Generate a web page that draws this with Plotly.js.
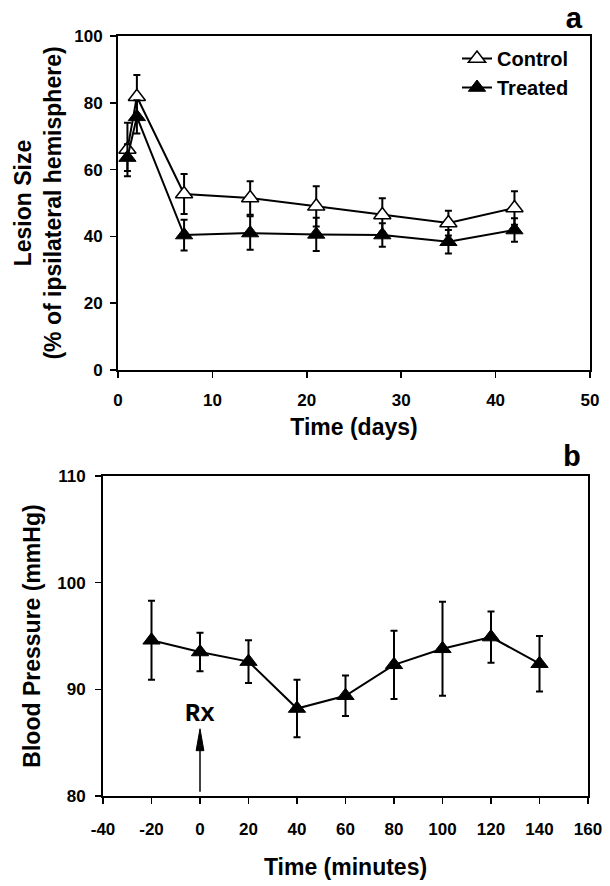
<!DOCTYPE html>
<html>
<head>
<meta charset="utf-8">
<script src="https://cdn.plot.ly/plotly-3.0.1.min.js"></script>
<style>html,body{margin:0;padding:0;background:#fff;}#chart{width:610px;height:886px;}</style>
</head>
<body>
<div id="chart"></div>
<script>
// ---- Panel a: lesion size ----
const days = [1, 2, 7, 14, 21, 28, 35, 42];
const controlLesion = [66, 81.8, 52.7, 51.5, 49, 46.4, 44, 48.5];
const controlErr = [8, 6.5, 6, 5, 6, 5, 3.7, 5];
const treatedLesion = [63.6, 75.8, 40.4, 41, 40.6, 40.4, 38.4, 41.9];
const treatedErr = [4, 5, 4.6, 5, 5, 3.5, 3.5, 3.5];
const seriesNames = ['Control', 'Treated'];
const xTicksA = [0, 10, 20, 30, 40, 50];
const yTicksA = [0, 20, 40, 60, 80, 100];

// ---- Panel b: blood pressure ----
const minutes = [-20, 0, 20, 40, 60, 80, 100, 120, 140];
const bloodPressure = [94.6, 93.5, 92.6, 88.2, 89.4, 92.3, 93.8, 94.9, 92.4];
const bpErr = [3.7, 1.8, 2, 2.7, 1.9, 3.2, 4.4, 2.4, 2.6];
const xTicksB = [-40, -20, 0, 20, 40, 60, 80, 100, 120, 140, 160];
const yTicksB = [80, 90, 100, 110];

// Rx marker (treatment time)
const rxTime = 0;
const rxLabelY = 87.6;
const rxArrowBase = 80.4;
const rxArrowTip = 86.3;

const W = 610, H = 886;
const FONT = 'Liberation Sans, Arial, sans-serif';
const MONO = 'Liberation Mono';
const tickFont = {family: FONT, size: 17, color: '#000', weight: 'bold'};
const titleFont = {family: FONT, size: 23, color: '#000', weight: 'bold'};

function errBar(arr) {
  return {type: 'data', array: arr, visible: true, color: '#000', thickness: 2, width: 3.5};
}

const traces = [
  {
    x: days, y: controlLesion, name: seriesNames[0], xaxis: 'x', yaxis: 'y',
    type: 'scatter', mode: 'lines+markers',
    line: {color: '#000', width: 2},
    marker: {symbol: 'triangle-up', size: 15, color: '#fff', line: {color: '#000', width: 1.5}},
    error_y: errBar(controlErr)
  },
  {
    x: days, y: treatedLesion, name: seriesNames[1], xaxis: 'x', yaxis: 'y',
    type: 'scatter', mode: 'lines+markers',
    line: {color: '#000', width: 2},
    marker: {symbol: 'triangle-up', size: 15, color: '#000', line: {color: '#000', width: 1}},
    error_y: errBar(treatedErr)
  },
  {
    x: minutes, y: bloodPressure, name: 'Blood pressure', xaxis: 'x2', yaxis: 'y2',
    type: 'scatter', mode: 'lines+markers', showlegend: false,
    line: {color: '#000', width: 2},
    marker: {symbol: 'triangle-up', size: 15, color: '#000', line: {color: '#000', width: 1}},
    error_y: errBar(bpErr)
  }
];

function axisBase() {
  return {
    showline: true, linecolor: '#000', linewidth: 2, mirror: true,
    ticks: 'outside', ticklen: 6, tickwidth: 1.5, tickcolor: '#000',
    showgrid: false, zeroline: false, tickfont: tickFont, fixedrange: true
  };
}

const layout = {
  width: W, height: H,
  margin: {l: 0, r: 0, t: 0, b: 0},
  paper_bgcolor: '#fff', plot_bgcolor: '#fff',
  showlegend: true,
  legend: {
    x: 457 / W, y: 1 - 39 / H, xanchor: 'left', yanchor: 'top',
    font: {family: FONT, size: 20, color: '#000', weight: 'bold'},
    bgcolor: 'rgba(0,0,0,0)', borderwidth: 0, tracegroupgap: 0
  },
  xaxis: Object.assign(axisBase(), {
    domain: [118 / W, 590 / W], range: [0, 50],
    tickvals: xTicksA, ticktext: xTicksA.map(String),
    anchor: 'y', ticklabelstandoff: 8,
    title: {text: 'Time (days)', font: titleFont, standoff: 9}
  }),
  yaxis: Object.assign(axisBase(), {
    domain: [1 - 370 / H, 1 - 36 / H], range: [0, 100],
    tickvals: yTicksA, ticktext: yTicksA.map(String),
    anchor: 'x', ticklabelstandoff: 4,
    title: {text: 'Lesion Size<br>(% of ipsilateral hemisphere)', font: titleFont, standoff: 6}
  }),
  xaxis2: Object.assign(axisBase(), {
    domain: [103 / W, 588 / W], range: [-40, 160],
    tickvals: xTicksB, ticktext: xTicksB.map(String),
    anchor: 'y2', ticklabelstandoff: 11,
    title: {text: 'Time (minutes)', font: titleFont, standoff: 20}
  }),
  yaxis2: Object.assign(axisBase(), {
    domain: [1 - 796 / H, 1 - 476 / H], range: [80, 110],
    tickvals: yTicksB, ticktext: yTicksB.map(String),
    anchor: 'x2', ticklabelstandoff: 6,
    title: {text: 'Blood Pressure (mmHg)', font: titleFont, standoff: 10}
  }),
  annotations: [
    {xref: 'paper', yref: 'paper', x: 574 / W, y: 1 - 20 / H, text: '<b>a</b>', showarrow: false,
     xanchor: 'center', yanchor: 'middle', font: {family: MONO, size: 30, color: '#000'}},
    {xref: 'paper', yref: 'paper', x: 572 / W, y: 1 - 458 / H, text: '<b>b</b>', showarrow: false,
     xanchor: 'center', yanchor: 'middle', font: {family: MONO, size: 30, color: '#000'}},
    {xref: 'x2', yref: 'y2', x: rxTime, y: rxLabelY, text: '<b>Rx</b>', showarrow: false,
     xanchor: 'center', yanchor: 'middle', font: {family: MONO, size: 25, color: '#000'}}
  ],
  shapes: [
    {type: 'line', xref: 'x2', yref: 'y2', x0: rxTime, x1: rxTime, y0: rxArrowBase, y1: rxArrowTip - 1.5,
     line: {color: '#000', width: 1.5}},
    {type: 'path', xref: 'x2', yref: 'y2',
     path: 'M ' + (rxTime - 1.6) + ',' + (rxArrowTip - 2.05) + ' L ' + rxTime + ',' + rxArrowTip +
           ' L ' + (rxTime + 1.6) + ',' + (rxArrowTip - 2.05) + ' Z',
     fillcolor: '#000', line: {color: '#000', width: 1}}
  ]
};

Plotly.newPlot('chart', traces, layout, {displayModeBar: false, staticPlot: true});
</script>
</body>
</html>
